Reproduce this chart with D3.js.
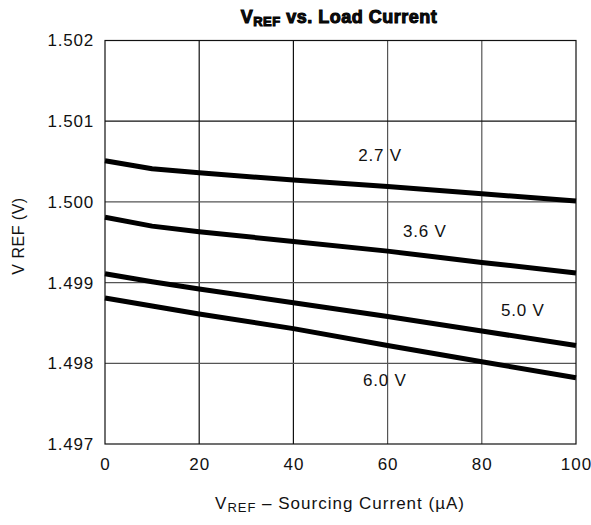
<!DOCTYPE html>
<html><head><meta charset="utf-8">
<script src="https://cdn.jsdelivr.net/npm/d3@7/dist/d3.min.js"></script>
<style>body{margin:0;background:#fff}svg{display:block}text{font-family:"Liberation Sans",Arial,sans-serif;fill:#111}</style>
</head><body><svg id="c" width="591" height="525"></svg>
<script>
const current = [0, 10, 20, 40, 60, 80, 100];
const v27 = [1.50051, 1.50041, 1.50036, 1.50027, 1.50019, 1.50010, 1.50001];
const v36 = [1.49981, 1.49970, 1.49963, 1.49951, 1.49939, 1.49925, 1.49912];
const v50 = [1.49911, 1.49901, 1.49892, 1.49875, 1.49858, 1.49840, 1.49822];
const v60 = [1.49881, 1.49871, 1.49861, 1.49843, 1.49822, 1.49802, 1.49782];
const seriesNames = ["2.7 V", "3.6 V", "5.0 V", "6.0 V"];
const labelPos = [[58.4, 1.50058], [67.9, 1.49963], [88.7, 1.49865], [59.4, 1.49779]];
const xTicks = [0, 20, 40, 60, 80, 100];
const yTicks = [1.497, 1.498, 1.499, 1.500, 1.501, 1.502];

const svg = d3.select("#c");
const L = 105, R = 576, T = 40.5, B = 444;
const x = d3.scaleLinear().domain([0, 100]).range([L, R]);
const y = d3.scaleLinear().domain([1.497, 1.502]).range([B, T]);

// grid
svg.append("g").selectAll("line").data(xTicks.slice(1, -1)).join("line")
  .attr("x1", d => x(d)).attr("x2", d => x(d)).attr("y1", T).attr("y2", B)
  .attr("stroke", (d, i) => i < 2 ? "#111" : "#555").attr("stroke-width", 1.2);
svg.append("g").selectAll("line").data(yTicks.slice(1, -1)).join("line")
  .attr("x1", L).attr("x2", R).attr("y1", d => y(d)).attr("y2", d => y(d))
  .attr("stroke", d => d > 1.5005 ? "#111" : "#555").attr("stroke-width", 1.2);

// frame
svg.append("rect").attr("x", L).attr("y", T).attr("width", R - L).attr("height", B - T)
  .attr("fill", "none").attr("stroke", "#111").attr("stroke-width", 1.2);

// axes
const xAxis = d3.axisBottom(x).tickValues(xTicks).tickSize(0).tickPadding(14).tickFormat(d3.format("d"));
svg.append("g").attr("transform", `translate(0,${B})`).call(xAxis)
  .call(g => g.select(".domain").remove())
  .selectAll("text").style("font-size", "17px").style("letter-spacing", "1px").style("font-family", "Liberation Sans, Arial").attr("fill", "#111");
const yAxis = d3.axisLeft(y).tickValues(yTicks).tickSize(0).tickPadding(11).tickFormat(d3.format(".3f"));
svg.append("g").attr("transform", `translate(${L},0)`).call(yAxis)
  .call(g => g.select(".domain").remove())
  .selectAll("text").style("font-size", "17px").style("letter-spacing", "0.8px").style("font-family", "Liberation Sans, Arial").attr("fill", "#111");

// lines
const line = d3.line().x((d, i) => x(current[i])).y(d => y(d));
[v27, v36, v50, v60].forEach(s => {
  svg.append("path").datum(s).attr("d", line).attr("fill", "none")
    .attr("stroke", "#000").attr("stroke-width", 5).attr("stroke-linejoin", "round");
});

// series labels
svg.append("g").selectAll("text").data(seriesNames).join("text")
  .attr("x", (d, i) => x(labelPos[i][0])).attr("y", (d, i) => y(labelPos[i][1]))
  .attr("text-anchor", "middle").attr("dominant-baseline", "central")
  .style("font-size", "17px").style("letter-spacing", "0.8px").text(d => d);

// title
const title = svg.append("text").attr("x", 339).attr("y", 23).attr("text-anchor", "middle")
  .style("font-size", "18px").style("font-weight", "bold").style("letter-spacing", "0.5px")
  .attr("stroke", "#000").attr("stroke-width", 1);
title.append("tspan").text("V");
title.append("tspan").style("font-size", "13px").attr("dy", 3).text("REF");
title.append("tspan").attr("dy", -3).text(" vs. Load Current");

// x label
const xl = svg.append("text").attr("x", 340).attr("y", 509).attr("text-anchor", "middle")
  .style("font-size", "17px").style("letter-spacing", "1px");
xl.append("tspan").text("V");
xl.append("tspan").style("font-size", "13px").attr("dy", 3).text("REF");
xl.append("tspan").attr("dy", -3).text(" \u2013 Sourcing Current (\u00b5A)");

// y label
svg.append("text").attr("transform", "translate(24,236) rotate(-90)").attr("text-anchor", "middle")
  .style("font-size", "16px").style("letter-spacing", "0.5px").text("V REF (V)");
</script></body></html>
